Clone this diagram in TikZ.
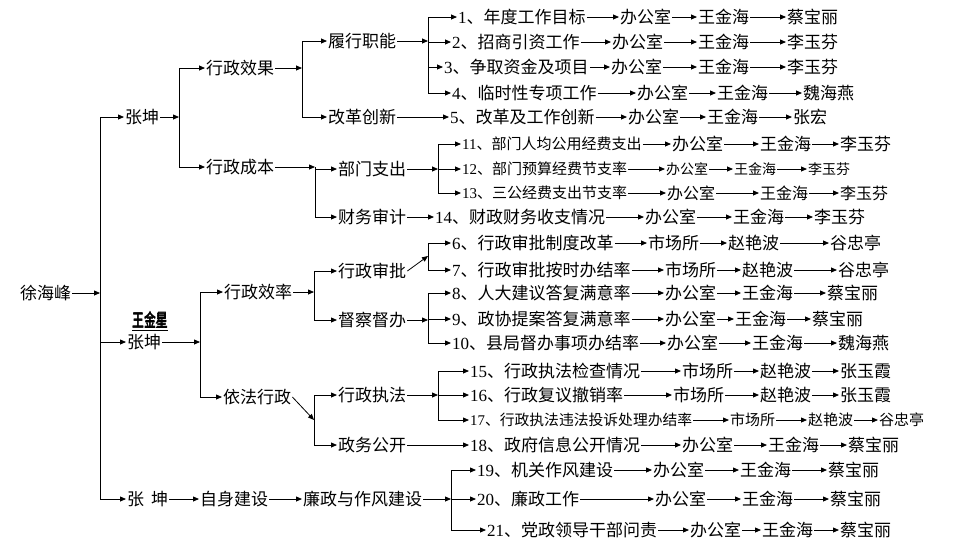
\documentclass[tikz,border=0pt]{standalone}
\usepackage{fontspec}
\usepackage{graphicx}
\setmainfont{Noto Sans CJK SC}
\newfontfamily\dgfont{Liberation Serif}
\usetikzlibrary{arrows.meta}
\newcommand\dg[1]{{\dgfont #1}}
\newcommand\fsz[1]{\fontsize{#1}{#1}\selectfont}
\newcommand\heavytxt[1]{\rlap{#1}\kern0.6pt\rlap{#1}\kern-0.3pt\raisebox{0.4pt}{#1}}
\begin{document}
\begin{tikzpicture}[x=1pt,y=-1pt,
  lbl/.style={anchor=west,inner sep=1pt,font=\fsz{17}},
  arr/.style={-{Triangle[length=6pt,width=5pt]},line width=0.8pt},
  ln/.style={line width=0.8pt}]
\useasboundingbox (0,0) rectangle (963,555);

% tree nodes
\node[lbl] (xhf)  at (19,293)  {徐海峰};
\node[lbl] (zk1)  at (124,117) {张坤};
\node[lbl,font=\fsz{18}] (wjx) at (131,321) {\underline{\scalebox{0.66}[1]{\heavytxt{王金星}}}};
\node[lbl] (zk2)  at (126,342) {张坤};
\node[lbl] (zk3)  at (126,499) {张\hspace{7pt}坤};
\node[lbl] (xzxg) at (205,68)  {行政效果};
\node[lbl] (xzcb) at (205,167) {行政成本};
\node[lbl] (lxzn) at (327,41)  {履行职能};
\node[lbl] (ggcx) at (327,117) {改革创新};
\node[lbl] (bmzc) at (337,169) {部门支出};
\node[lbl] (cwsj) at (337,217) {财务审计};
\node[lbl] (xzxl) at (223,292) {行政效率};
\node[lbl] (yfxz) at (222,397) {依法行政};
\node[lbl] (xzsp) at (337,271) {行政审批};
\node[lbl] (dcdb) at (337,320) {督察督办};
\node[lbl] (xzzf) at (337,395) {行政执法};
\node[lbl] (zwgk) at (337,445) {政务公开};
\node[lbl] (zsjs) at (199,499) {自身建设};
\node[lbl] (lzzf) at (302,499) {廉政与作风建设};

% bus points
\coordinate (bA) at (100,293);
\coordinate (bB) at (179,117);
\coordinate (bC) at (302,68);
\coordinate (bD) at (428,41);
\coordinate (bE) at (315,167);
\coordinate (bF) at (438,169);
\coordinate (bG) at (200,342);
\coordinate (bH) at (314,292);
\coordinate (bI) at (428,256);
\coordinate (bJ) at (428,320);
\coordinate (bK) at (314,420);
\coordinate (bL) at (438,395);
\coordinate (bM) at (451,499);

% rows of indicators
\foreach \n/\y/\sa/\xa/\ta/\sb/\xb/\tb/\xc/\tc/\xd/\td in {
 1/17/17/457/\dg{1}、年度工作目标/17/619/办公室/697/王金海/786/蔡宝丽,
 2/42/17/451/\dg{2}、招商引资工作/17/611/办公室/697/王金海/786/李玉芬,
 3/67/17/443/\dg{3}、争取资金及项目/17/610/办公室/697/王金海/786/李玉芬,
 4/93/17/451/\dg{4}、临时性专项工作/17/636/办公室/716/王金海/802/魏海燕,
 5/117/17/449/\dg{5}、改革及工作创新/17/627/办公室/706/王金海/792/张宏,
 11/144/15/461/\dg{11}、部门人均公用经费支出/17/671/办公室/759/王金海/839/李玉芬,
 12/169/15/461/\dg{12}、部门预算经费节支率/14/665/办公室/733/王金海/807/李玉芬,
 13/193/15/461/\dg{13}、三公经费支出节支率/16/666/办公室/759/王金海/839/李玉芬,
 14/217/17/434/\dg{14}、财政财务收支情况/17/644/办公室/732/王金海/813/李玉芬,
 6/243/17/451/\dg{6}、行政审批制度改革/17/647/市场所/727/赵艳波/829/谷忠亭,
 7/270/17/451/\dg{7}、行政审批按时办结率/17/664/市场所/741/赵艳波/837/谷忠亭,
 8/293/17/451/\dg{8}、人大建议答复满意率/17/664/办公室/741/王金海/826/蔡宝丽,
 9/319/17/451/\dg{9}、政协提案答复满意率/17/664/办公室/734/王金海/811/蔡宝丽,
 10/343/17/451/\dg{10}、县局督办事项办结率/17/666/办公室/751/王金海/837/魏海燕,
 15/371/17/469/\dg{15}、行政执法检查情况/17/681/市场所/759/赵艳波/839/张玉霞,
 16/395/17/469/\dg{16}、行政复议撤销率/17/672/市场所/759/赵艳波/839/张玉霞,
 17/420/14.8/469/\dg{17}、行政执法违法投诉处理办结率/15/729/市场所/807/赵艳波/878/谷忠亭,
 18/445/17/469/\dg{18}、政府信息公开情况/17/681/办公室/767/王金海/847/蔡宝丽,
 19/470/17/476/\dg{19}、机关作风建设/17/652/办公室/739/王金海/827/蔡宝丽,
 20/499/17/476/\dg{20}、廉政工作/17/654/办公室/741/王金海/829/蔡宝丽,
 21/530/17/486/\dg{21}、党政领导干部问责/17/689/办公室/761/王金海/839/蔡宝丽}
{
 \node[lbl,font=\fsz{\sa}] (r\n) at (\xa,\y) {\ta};
 \node[lbl,font=\fsz{\sb}] (ra\n) at (\xb,\y) {\tb};
 \node[lbl,font=\fsz{\sb}] (rb\n) at (\xc,\y) {\tc};
 \node[lbl,font=\fsz{\sb}] (rc\n) at (\xd,\y) {\td};
 \draw[arr] (r\n.east) -- (ra\n.west);
 \draw[arr] (ra\n.east) -- (rb\n.west);
 \draw[arr] (rb\n.east) -- (rc\n.west);
}

% connectors of the tree
\draw[arr] (xhf.east) -- (bA);
\draw[arr] (bA) |- (zk1.west);
\draw[arr] (bA) |- (zk2.west);
\draw[arr] (bA) |- (zk3.west);

\draw[arr] (zk1.east) -- (bB);
\draw[arr] (bB) |- (xzxg.west);
\draw[arr] (bB) |- (xzcb.west);

\draw[arr] (xzxg.east) -- (bC);
\draw[arr] (bC) |- (lxzn.west);
\draw[arr] (bC) |- (ggcx.west);

\draw[arr] (lxzn.east) -- (bD);
\foreach \k in {1,2,3,4} \draw[arr] (bD) |- (r\k.west);
\draw[arr] (ggcx.east) -- (r5.west);

\draw[arr] (xzcb.east) -- (bE);
\draw[arr] (bE) |- (bmzc.west);
\draw[arr] (bE) |- (cwsj.west);
\draw[arr] (bmzc.east) -- (bF);
\foreach \k in {11,12,13} \draw[arr] (bF) |- (r\k.west);
\draw[arr] (cwsj.east) -- (r14.west);

\draw[arr] (zk2.east) -- (bG);
\draw[arr] (bG) |- (xzxl.west);
\draw[arr] (bG) |- (yfxz.west);

\draw[arr] (xzxl.east) -- (bH);
\draw[arr] (bH) |- (xzsp.west);
\draw[arr] (bH) |- (dcdb.west);
\draw[arr] (xzsp.east) -- (bI);
\foreach \k in {6,7} \draw[arr] (bI) |- (r\k.west);
\draw[arr] (dcdb.east) -- (bJ);
\foreach \k in {8,9,10} \draw[arr] (bJ) |- (r\k.west);

\draw[arr] (yfxz.east) -- (bK);
\draw[arr] (bK) |- (xzzf.west);
\draw[arr] (bK) |- (zwgk.west);
\draw[arr] (xzzf.east) -- (bL);
\foreach \k in {15,16,17} \draw[arr] (bL) |- (r\k.west);
\draw[arr] (zwgk.east) -- (r18.west);

\draw[arr] (zk3.east) -- (zsjs.west);
\draw[arr] (zsjs.east) -- (lzzf.west);
\draw[arr] (lzzf.east) -- (bM);
\foreach \k in {19,20,21} \draw[arr] (bM) |- (r\k.west);
\end{tikzpicture}
\end{document}
